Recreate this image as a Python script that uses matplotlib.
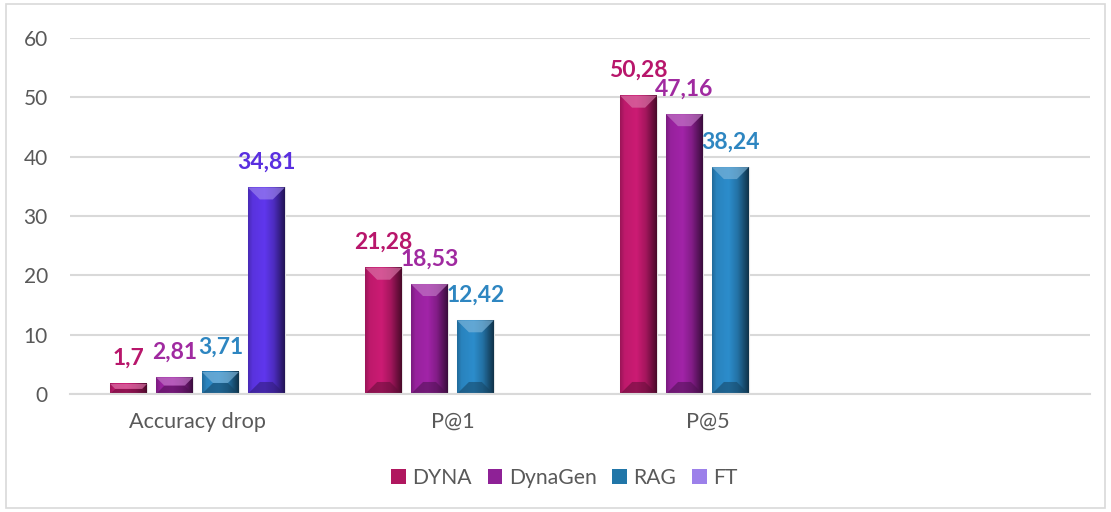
import numpy as np
import matplotlib.pyplot as plt
import matplotlib.colors as mcolors
from matplotlib.patches import Rectangle, Polygon

categories = ['Accuracy drop', 'P@1', 'P@5', '']
series = ['DYNA', 'DynaGen', 'RAG', 'FT']
dyna = [1.7, 21.28, 50.28, np.nan]
dynagen = [2.81, 18.53, 47.16, np.nan]
rag = [3.71, 12.42, 38.24, np.nan]
ft = [34.81, np.nan, np.nan, np.nan]
labels = [['1,7', '21,28', '50,28', ''],
          ['2,81', '18,53', '47,16', ''],
          ['3,71', '12,42', '38,24', ''],
          ['34,81', '', '', '']]

bar_colors = ['#C21A6E', '#9A22A0', '#2A86C2', '#5B34E2']
label_colors = ['#B8166B', '#A02AA0', '#2E86C1', '#5A2FE0']
legend_colors = ['#B0175F', '#8E2196', '#2176A8', '#9C80EA']

plt.rcParams['font.family'] = ['Lato', 'DejaVu Sans']

fig = plt.figure(figsize=(11.11, 5.12), dpi=100)
ax = fig.add_axes([0.063, 0.2305, 0.918, 0.6953])
fig.patches.append(Rectangle((0.005, 0.008), 0.99, 0.984, transform=fig.transFigure,
                             fill=False, edgecolor='#D9D9D9', lw=1.2))

ax.set_xlim(-0.5, 3.5)
ax.set_ylim(0, 60)
ax.set_yticks(range(0, 61, 10))
ax.set_xticks(range(len(categories)))
ax.set_xticklabels(categories)
ax.yaxis.grid(True, color='#D9D9D9', lw=1.5)
ax.set_axisbelow(True)
for s in ['top', 'right', 'left']:
    ax.spines[s].set_visible(False)
ax.spines['bottom'].set_color('#D9D9D9')
ax.spines['bottom'].set_linewidth(1.5)
ax.tick_params(length=0, colors='#595959')
ax.tick_params(axis='y', pad=16, labelsize=15)
ax.tick_params(axis='x', pad=13, labelsize=15.6)

# pixel -> data conversion
pos = ax.get_position()
ax_w_px = pos.width * fig.get_figwidth() * fig.dpi
ax_h_px = pos.height * fig.get_figheight() * fig.dpi
dx = 4.0 / ax_w_px
dy = 60.0 / ax_h_px

x = np.arange(len(categories))
slot = 0.18
width = 0.145
values = [dyna, dynagen, rag, ft]

# horizontal shading profile
t = np.linspace(0, 1, 60)
shade = np.interp(t, [0, 0.12, 0.45, 0.7, 1.0], [0.8, 0.98, 1.05, 0.85, 0.38])

for i, vals in enumerate(values):
    base = np.array(mcolors.to_rgb(bar_colors[i]))
    bars = ax.bar(x + (i - 1.5) * slot, vals, width, color=bar_colors[i],
                  edgecolor='#E6E6E6', lw=0.8, zorder=2)
    for b, lab, v in zip(bars, labels[i], vals):
        if np.isnan(v):
            continue
        x0, y0 = b.get_x(), b.get_y()
        w, h = b.get_width(), b.get_height()
        img = np.clip(base[None, None, :] * shade[None, :, None], 0, 1)
        ax.imshow(img, extent=(x0, x0 + w, y0, y0 + h), aspect='auto',
                  zorder=2.1, interpolation='bilinear')
        bh = min(12 * dy, h / 2)
        bw = min(12 * dx, w / 2) * (bh / (12 * dy))
        top = Polygon([(x0, y0 + h), (x0 + w, y0 + h), (x0 + w - bw, y0 + h - bh),
                       (x0 + bw, y0 + h - bh)], closed=True,
                      facecolor=np.clip(base * 0.6 + 0.4, 0, 1), lw=0, zorder=2.2, alpha=0.65)
        bot = Polygon([(x0, y0), (x0 + w, y0), (x0 + w - bw, y0 + bh),
                       (x0 + bw, y0 + bh)], closed=True,
                      facecolor=base * 0.5, lw=0, zorder=2.2, alpha=0.55)
        ax.add_patch(top)
        ax.add_patch(bot)
        ax.annotate(lab, (x0 + w / 2, y0 + h), xytext=(0, 13.5), textcoords='offset points',
                    ha='center', va='baseline', fontsize=16.5, fontweight='bold',
                    color=label_colors[i], zorder=3)

handles = [Rectangle((0, 0), 1, 1, facecolor=c, edgecolor='none') for c in legend_colors]
leg = fig.legend(handles, series, loc='center', bbox_to_anchor=(0.508, 0.066), ncol=4,
                 frameon=False, fontsize=15.2, handlelength=0.7, handleheight=0.7,
                 handletextpad=0.3, columnspacing=0.75)
for txt in leg.get_texts():
    txt.set_color('#595959')

fig.savefig('out.png', dpi=100)
